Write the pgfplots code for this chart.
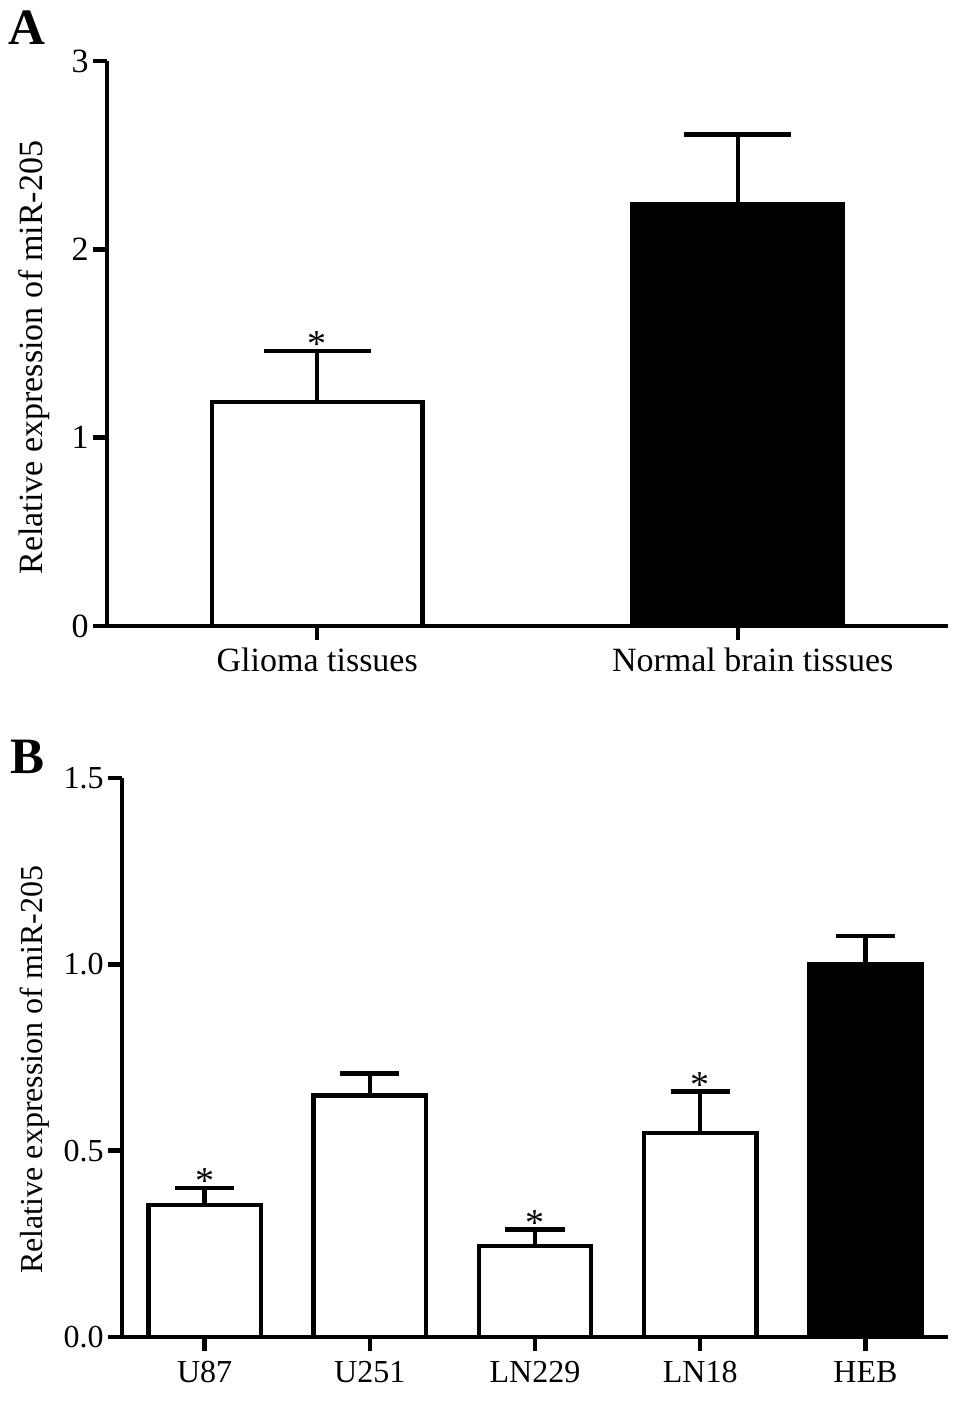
\documentclass[border=0pt]{standalone}
\usepackage{fontspec}
\setmainfont{Liberation Serif}
\usepackage{pgfplots}
\pgfplotsset{compat=1.18}

\pgfplotsset{
  panel/.style={
    scale only axis,
    axis lines=left,
    axis line style={-, line width=2.2pt},
    every tick/.style={black, line width=2.2pt},
    tick align=outside,
    major tick length=7pt,
    ybar, bar shift=0pt,
    ymin=0,
    clip=false,
    font=\fontsize{#1}{20}\selectfont,
    tick label style={font=\fontsize{#1}{20}\selectfont},
    /pgf/number format/assume math mode=true,
    yticklabel style={inner sep=2pt},
    xticklabel style={inner sep=2pt, yshift=-6.5pt, text height=0.7em},
  },
  barw/.style={fill=white, draw=black, line width=2.2pt},
  barb/.style={fill=black, draw=black, line width=2.2pt},
  errs/.style={error bars/.cd, y dir=plus, y explicit,
    error bar style={line width=2.2pt, black},
    error mark options={rotate=90, line width=2.2pt, black, mark size=#1}},
  stars/.style={draw=none, fill=none, nodes near coords, point meta=explicit symbolic,
    every node near coord/.style={anchor=south, inner sep=0pt, yshift=-3pt,
      font=\fontsize{19}{20}\selectfont}},
}

\begin{document}
\begin{tikzpicture}

% panel A
\begin{axis}[panel=17,
  at={(0,0)}, anchor=south west,
  width=420.5pt, height=282.5pt,
  xmin=-0.5, xmax=1.5, ymax=3,
  bar width=0.5,
  xtick={0,1}, xticklabels={Glioma tissues, \hspace*{15pt}Normal brain tissues},
  ytick={0,1,2,3},
  ylabel={Relative expression of miR-205},
  ylabel style={at={(axis description cs:-0.068,0.475)}, rotate=0, anchor=south, inner sep=0pt},
]
\addplot[barw, errs=26.75pt] table[x=x, y=y, y error=e] {
x y e
0 1.19 0.27
};
\addplot[barb, errs=26.75pt] table[x=x, y=y, y error=e] {
x y e
1 2.24 0.37
};
\addplot[stars] table[x=x, y=y, meta=m] {
x y m
0 1.46 *
};
\node[anchor=north west, inner sep=0pt, font=\fontsize{25.5}{28}\selectfont\bfseries]
  at (axis description cs:-0.118,1.090) {A};
\end{axis}

% panel B
\begin{axis}[panel=16,
  at={(7.5pt,-355.5pt)}, anchor=south west,
  width=413pt, height=279.5pt,
  xmin=-0.5, xmax=4.5, ymax=1.5,
  bar width=0.68,
  xtick={0,1,2,3,4}, xticklabels={U87, U251, LN229, LN18, HEB},
  ytick={0,0.5,1,1.5},
  yticklabel style={/pgf/number format/.cd, fixed, fixed zerofill, precision=1},
  ylabel={Relative expression of miR-205},
  ylabel style={at={(axis description cs:-0.087,0.478)}, rotate=0, anchor=south, inner sep=0pt},
]
\addplot[barw, errs=14.8pt] table[x=x, y=y, y error=e] {
x y e
0 0.355 0.045
1 0.648 0.059
2 0.245 0.043
3 0.548 0.111
};
\addplot[barb, errs=14.8pt] table[x=x, y=y, y error=e] {
x y e
4 1.00 0.076
};
\addplot[stars] table[x=x, y=y, meta=m] {
x y m
0 0.400 *
2 0.288 *
3 0.659 *
};
\node[anchor=north west, inner sep=0pt, font=\fontsize{25.5}{28}\selectfont\bfseries]
  at (axis description cs:-0.1356,1.068) {B};
\end{axis}

\pgfresetboundingbox
\path (-53.5pt,313pt) rectangle (431pt,-395.5pt);
\end{tikzpicture}
\end{document}
